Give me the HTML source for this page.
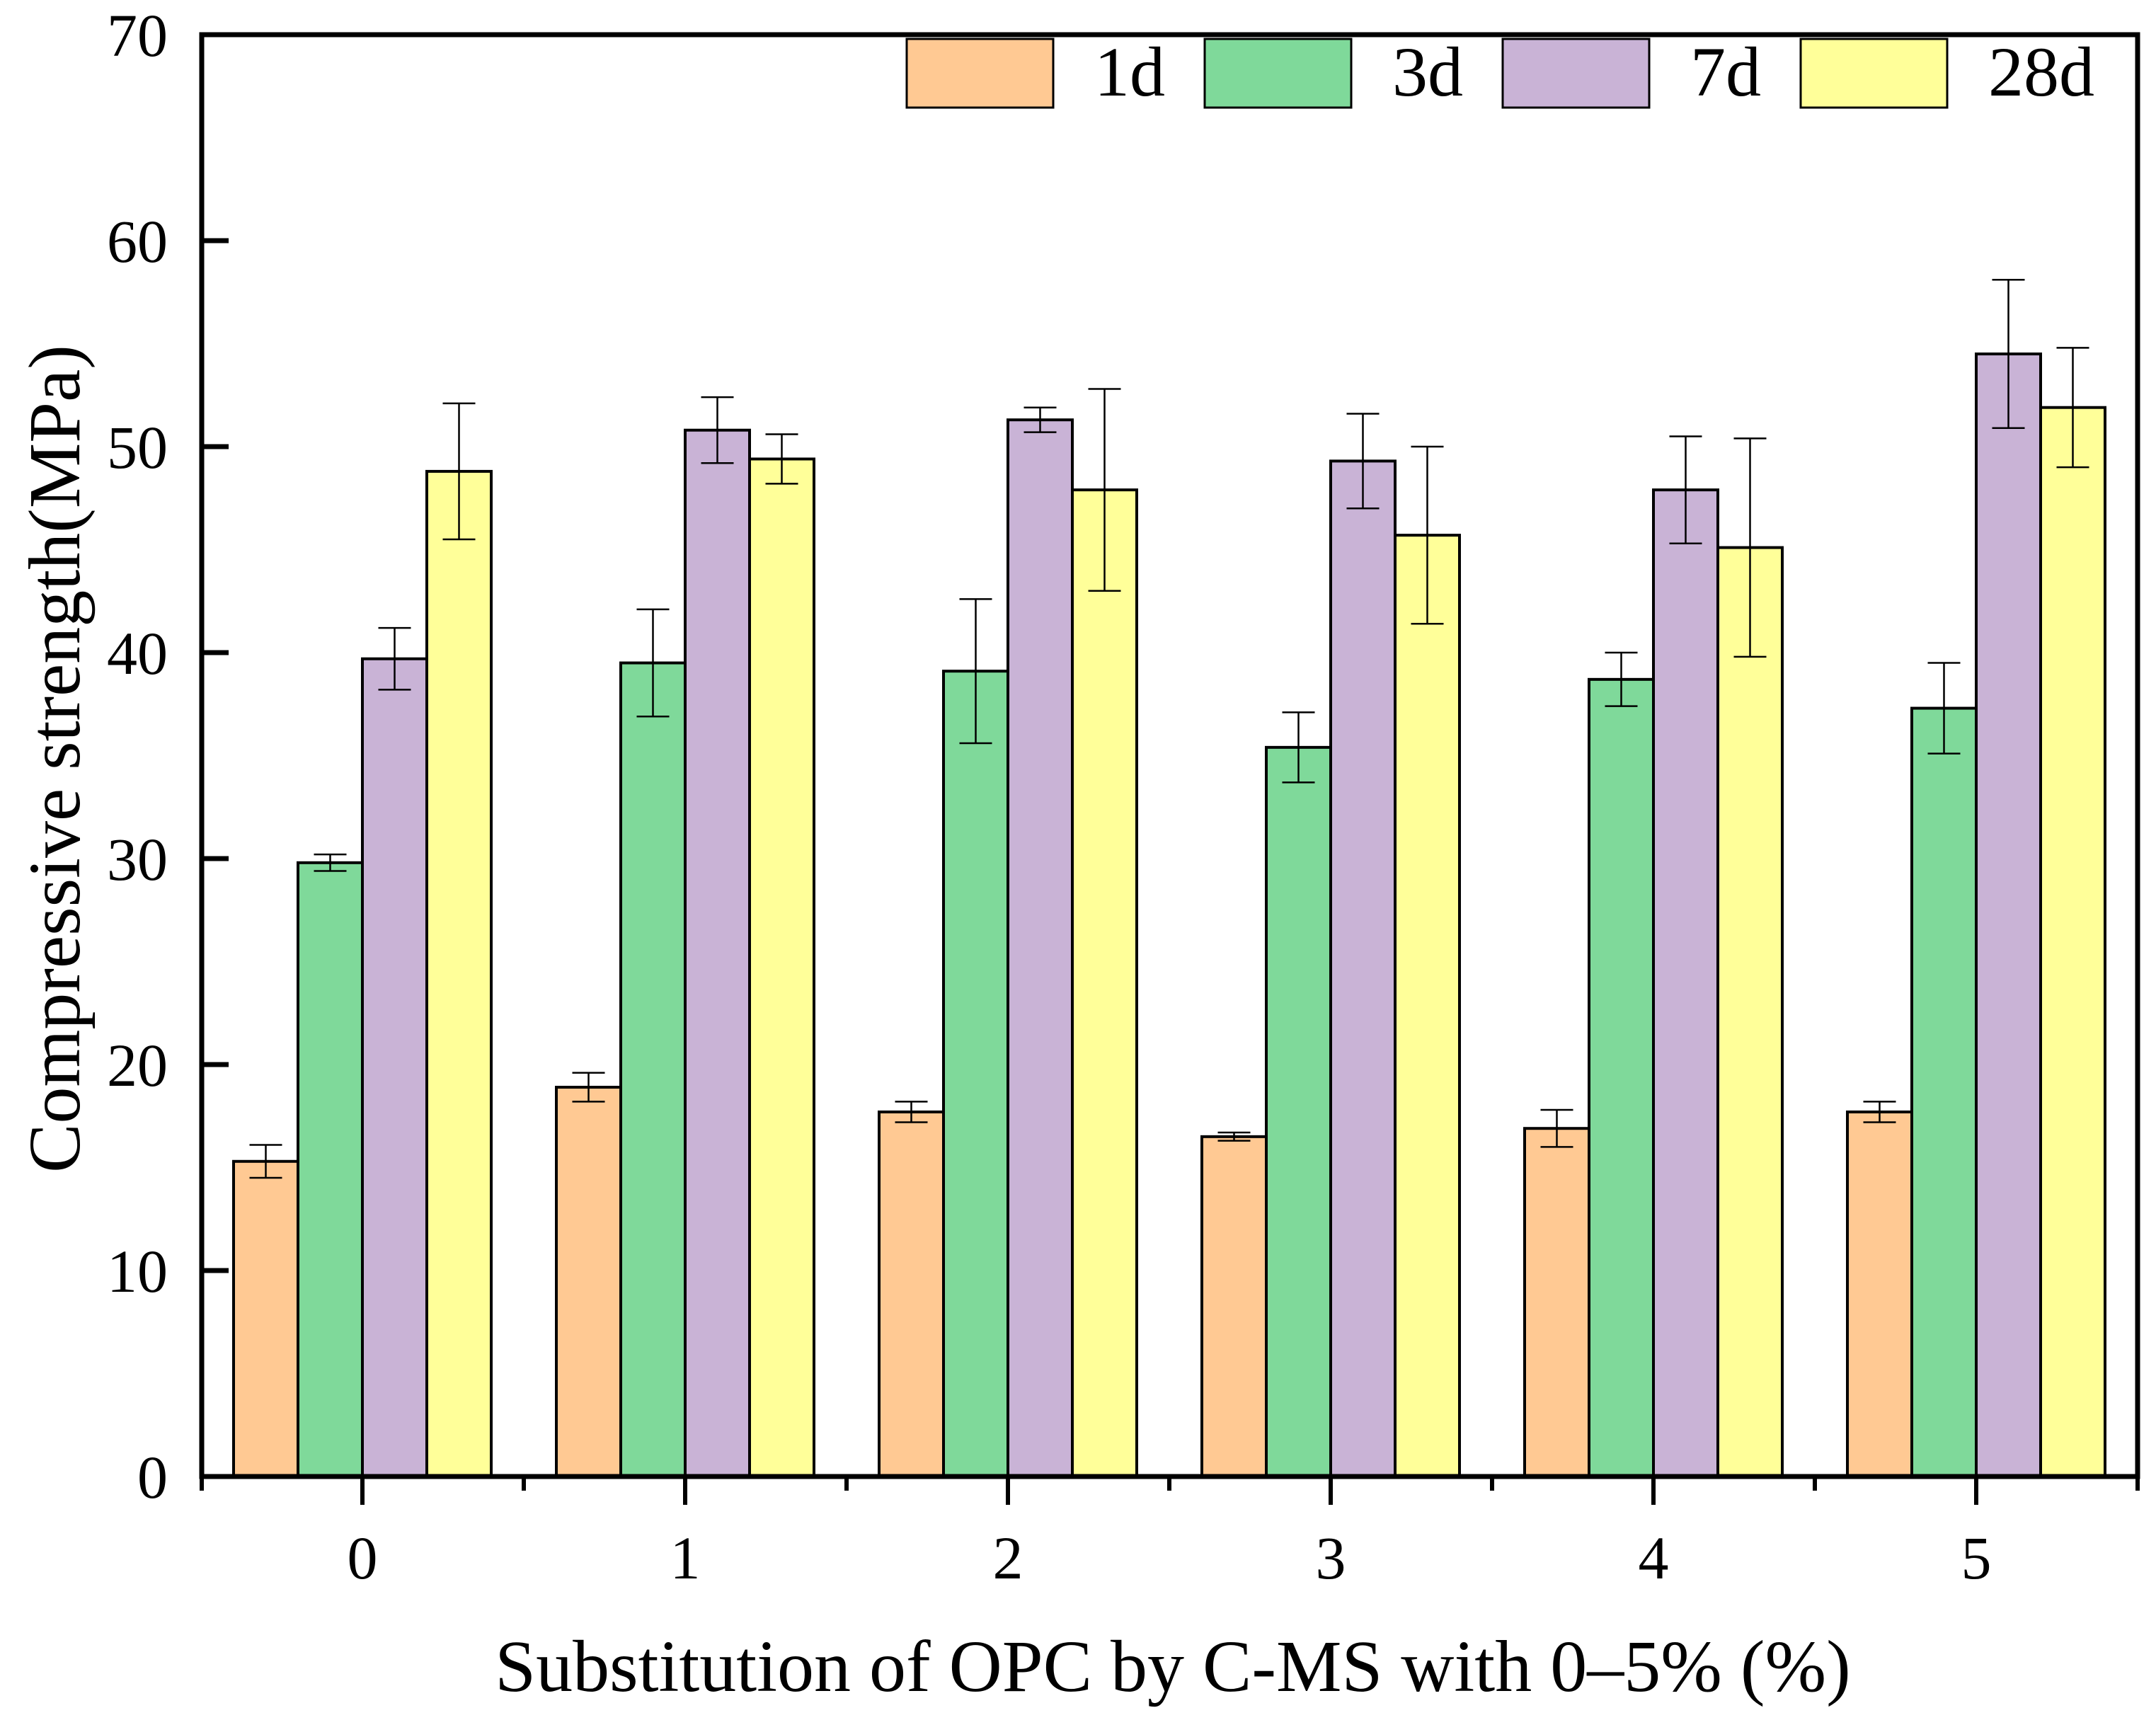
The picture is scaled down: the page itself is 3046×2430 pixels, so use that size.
<!DOCTYPE html>
<html><head><meta charset="utf-8"><style>
html,body{margin:0;padding:0;background:#fff}
svg{display:block}
text{font-family:"Liberation Serif",serif;fill:#000}
</style></head><body>
<svg id="chart" width="3046" height="2430" viewBox="0 0 3046 2430">
<g id="bars"></g>
<g id="axes"></g>
<g id="legend"></g>
<text x="1657" y="2389" font-size="104" text-anchor="middle">Substitution of OPC by C-MS with 0–5% (%)</text>
<text x="0" y="0" font-size="104" text-anchor="middle" transform="translate(112,1072) rotate(-90)">Compressive strength(MPa)</text>
</svg>
<script>
const categories = ["0","1","2","3","4","5"];
const seriesNames = ["1d","3d","7d","28d"];
const s1d = [15.3,18.9,17.7,16.5,16.9,17.7];
const s3d = [29.8,39.5,39.1,35.4,38.7,37.3];
const s7d = [39.7,50.8,51.3,49.3,47.9,54.5];
const s28d = [48.8,49.4,47.9,45.7,45.1,51.9];
const e1d = [0.8,0.7,0.5,0.2,0.9,0.5];
const e3d = [0.4,2.6,3.5,1.7,1.3,2.2];
const e7d = [1.5,1.6,0.6,2.3,2.6,3.6];
const e28d = [3.3,1.2,4.9,4.3,5.3,2.9];
const yTicks = [0,10,20,30,40,50,60,70];

const NS="http://www.w3.org/2000/svg";
const colors=["#FFC993","#7FD99A","#C9B3D6","#FFFF99"];
const L=285,R=3020,T=49,B=2086,yMax=70;
const y=v=>B-(v/yMax)*(B-T);
const gx=i=>512+i*456;
const bw=91;
function mk(tag,attrs,parent){const e=document.createElementNS(NS,tag);for(const k in attrs)e.setAttribute(k,attrs[k]);parent.appendChild(e);return e;}
const bars=document.getElementById('bars'),axes=document.getElementById('axes'),legend=document.getElementById('legend');
const series=[s1d,s3d,s7d,s28d],errs=[e1d,e3d,e7d,e28d];
categories.forEach((c,i)=>{
  series.forEach((s,k)=>{
    const x0=gx(i)-2*bw+k*bw;
    const r=mk('rect',{x:x0,y:y(s[i]),width:bw,height:B-y(s[i]),fill:colors[k],stroke:'#000','stroke-width':4},bars);
    
    
    const cx=x0+bw/2,hi=y(s[i]+errs[k][i]),lo=y(s[i]-errs[k][i]);
    const g=mk('g',{stroke:'#000','stroke-width':2.5},bars);
    
    
    mk('line',{x1:cx,x2:cx,y1:hi,y2:lo},g);
    mk('line',{x1:cx-23,x2:cx+23,y1:hi,y2:hi},g);
    mk('line',{x1:cx-23,x2:cx+23,y1:lo,y2:lo},g);
  });
  const t=mk('text',{x:gx(i),y:2230,'font-size':86,'text-anchor':'middle'},axes);
  t.textContent=c;
  
  
  mk('line',{x1:gx(i),x2:gx(i),y1:B,y2:2126,stroke:'#000','stroke-width':6},axes);
  mk('line',{x1:gx(i)+228,x2:gx(i)+228,y1:B,y2:2106,stroke:'#000','stroke-width':6},axes);
});
mk('line',{x1:L,x2:L,y1:B,y2:2106,stroke:'#000','stroke-width':6},axes);
yTicks.forEach(v=>{
  mk('line',{x1:L,x2:L+38,y1:y(v),y2:y(v),stroke:'#000','stroke-width':7},axes);
  const t=mk('text',{x:237,y:y(v)+30,'font-size':86,'text-anchor':'end'},axes);
  t.textContent=v;
  
  
});
const frame=mk('rect',{x:L,y:T,width:R-L,height:B-T,fill:'none',stroke:'#000','stroke-width':7},axes);


seriesNames.forEach((n,k)=>{
  const bx=1281+k*421;
  const r=mk('rect',{x:bx,y:55,width:207,height:97,fill:colors[k],stroke:'#000','stroke-width':3},legend);
  
  
  const t=mk('text',{x:bx+265,y:135,'font-size':100},legend);
  t.textContent=n;
  
  
});
</script>
</body></html>
